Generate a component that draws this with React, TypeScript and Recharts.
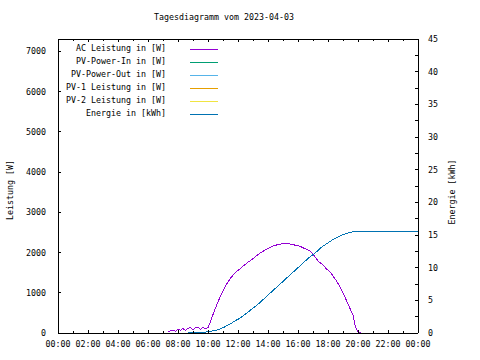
import { Legend, Line, LineChart, XAxis, YAxis } from "recharts"

// Tagesdiagramm: AC-Leistung (W, linke Achse) und Energie (kWh, rechte Achse)
const times = [
  "07:20", "07:30", "07:40", "07:50",
  "08:00", "08:10", "08:20", "08:30", "08:40", "08:50",
  "09:00", "09:10", "09:20", "09:30", "09:40", "09:50",
  "10:00", "10:10", "10:20", "10:30", "10:40", "10:50",
  "11:00", "11:10", "11:20", "11:30", "11:40", "11:50",
  "12:00", "12:10", "12:20", "12:30", "12:40", "12:50",
  "13:00", "13:10", "13:20", "13:30", "13:40", "13:50",
  "14:00", "14:10", "14:20", "14:30", "14:40", "14:50",
  "15:00", "15:10", "15:20", "15:30", "15:40", "15:50",
  "16:00", "16:10", "16:20", "16:30", "16:40", "16:50",
  "17:00", "17:10", "17:20", "17:30", "17:40", "17:50",
  "18:00", "18:10", "18:20", "18:30", "18:40", "18:50",
  "19:00", "19:10", "19:20", "19:30", "19:40", "19:50",
  "20:00", "20:10", "24:00"
]

const acPower = [
  20, 60, 70, 40,
  90, 70, 110, 60, 120, 130,
  80, 130, 140, 90, 140, 110,
  130, 280, 460, 620, 770, 920,
  1050, 1170, 1270, 1360, 1440, 1510,
  1560, 1600, 1660, 1710, 1760, 1800,
  1850, 1900, 1950, 2000, 2030, 2070,
  2100, 2130, 2160, 2180, 2200, 2210,
  2230, 2220, 2230, 2210, 2200, 2180,
  2170, 2150, 2120, 2090, 2060, 2030,
  1960, 1880, 1790, 1740, 1690, 1620,
  1560, 1510, 1420, 1330, 1230, 1120,
  1000, 860, 720, 580, 450, 150,
  40, 0, null
]

const energy = [
  null, null, null, null,
  null, null, null, null, 0.1, 0.1,
  0.1, 0.1, 0.1, 0.1, 0.15, 0.15,
  0.2, 0.25, 0.35, 0.4, 0.5, 0.65,
  0.8, 1.0, 1.2, 1.4, 1.65, 1.9,
  2.1, 2.35, 2.6, 2.9, 3.2, 3.5,
  3.8, 4.1, 4.4, 4.75, 5.1, 5.45,
  5.8, 6.15, 6.5, 6.85, 7.2, 7.55,
  7.9, 8.25, 8.6, 8.95, 9.3, 9.65,
  10.0, 10.35, 10.7, 11.05, 11.4, 11.7,
  12.0, 12.3, 12.6, 13.0, 13.3, 13.55,
  13.8, 14.05, 14.3, 14.5, 14.7, 14.9,
  15.05, 15.2, 15.3, 15.4, 15.5, 15.55,
  15.6, 15.6, 15.6
]

// keine Messwerte an diesem Tag
const pvPowerIn: (number | null)[] = []
const pvPowerOut: (number | null)[] = []
const pv1: (number | null)[] = []
const pv2: (number | null)[] = []

const xTicks = [
  0, 60, 120, 180, 240, 300, 360, 420, 480, 540, 600, 660, 720,
  780, 840, 900, 960, 1020, 1080, 1140, 1200, 1260, 1320, 1380, 1440
]
const leftTicks = [0, 1000, 2000, 3000, 4000, 5000, 6000, 7000]
const rightTicks = [
  0, 2.5, 5, 7.5, 10, 12.5, 15, 17.5, 20, 22.5, 25, 27.5, 30,
  32.5, 35, 37.5, 40, 42.5, 45
]

const series = [
  { key: "ac", name: "AC Leistung in [W]", color: "#9400d3", axis: "left" },
  { key: "pvIn", name: "PV-Power-In in [W]", color: "#009e73", axis: "left" },
  { key: "pvOut", name: "PV-Power-Out in [W]", color: "#56b4e9", axis: "left" },
  { key: "pv1", name: "PV-1 Leistung in [W]", color: "#e69f00", axis: "left" },
  { key: "pv2", name: "PV-2 Leistung in [W]", color: "#f0e442", axis: "left" },
  { key: "energy", name: "Energie in [kWh]", color: "#0072b2", axis: "right" }
]

const toMinutes = (t: string) => {
  const [h, m] = t.split(":").map(Number)
  return h * 60 + m
}

const data = times.map((t, i) => ({
  t: toMinutes(t),
  ac: acPower[i],
  pvIn: pvPowerIn[i],
  pvOut: pvPowerOut[i],
  pv1: pv1[i],
  pv2: pv2[i],
  energy: energy[i]
}))

const FONT = "'DejaVu Sans Mono', monospace"
const FS = 8.3

const fmtTime = (v: number) => {
  const h = Math.floor(v / 60) % 24
  return `${String(h).padStart(2, "0")}:00`
}

function BottomTick({ x, y, payload }: any) {
  const major = payload.value % 120 === 0
  const axisY = y - 11
  return (
    <g>
      <line x1={x} x2={x} y1={axisY} y2={axisY - (major ? 3 : 2)} stroke="#000" />
      {major && (
        <text x={x} y={y} textAnchor="middle" dominantBaseline="central" fontFamily={FONT} fontSize={FS} fill="#000">
          {fmtTime(payload.value)}
        </text>
      )}
    </g>
  )
}

function TopTick({ x, y, payload }: any) {
  const major = payload.value % 120 === 0
  return <line x1={x} x2={x} y1={y} y2={y + (major ? 3 : 2)} stroke="#000" />
}

function LeftTick({ x, y, payload }: any) {
  const axisX = x + 12
  return (
    <g>
      <line x1={axisX} x2={axisX + 3} y1={y} y2={y} stroke="#000" />
      <text x={x} y={y} textAnchor="end" dominantBaseline="central" fontFamily={FONT} fontSize={FS} fill="#000">
        {payload.value}
      </text>
    </g>
  )
}

function RightTick({ x, y, payload }: any) {
  const axisX = x - 10
  const major = payload.value % 5 === 0
  return (
    <g>
      <line x1={axisX} x2={axisX - 3} y1={y} y2={y} stroke="#000" />
      {major && (
        <text x={x} y={y} textAnchor="start" dominantBaseline="central" fontFamily={FONT} fontSize={FS} fill="#000">
          {payload.value}
        </text>
      )}
    </g>
  )
}

// gnuplot-artige Legende: Text rechtsbündig, Linienmuster rechts daneben
const renderLegend = () => (
  <div style={{ fontFamily: FONT, fontSize: FS, color: "#000" }}>
    {series.map((s) => (
      <div key={s.key} style={{ display: "flex", alignItems: "center", height: 13 }}>
        <span style={{ width: 166, textAlign: "right", whiteSpace: "pre" }}>{s.name}</span>
        <span style={{ marginLeft: 24, marginTop: 3, width: 28, height: 0, borderTop: `1px solid ${s.color}` }} />
      </div>
    ))}
  </div>
)

export default function App() {
  return (
    <div style={{ position: "absolute", left: 0, top: 0, width: 480, height: 360, background: "#fff" }}>
      <div
        style={{
          position: "absolute",
          left: 0,
          width: 448,
          top: 12,
          textAlign: "center",
          fontFamily: FONT,
          fontSize: FS,
          color: "#000"
        }}
      >
        Tagesdiagramm vom 2023-04-03
      </div>
      <LineChart
        width={480}
        height={360}
        data={data}
        margin={{ top: 38, right: 12, bottom: 7, left: 8 }}
        style={{ shapeRendering: "crispEdges" }}
      >
        <XAxis
          dataKey="t"
          type="number"
          domain={[0, 1440]}
          ticks={xTicks}
          interval={0}
          height={20}
          tickSize={0}
          tickMargin={11}
          tickLine={false}
          axisLine={{ stroke: "#000" }}
          tick={<BottomTick />}
        />
        <XAxis
          xAxisId="top"
          orientation="top"
          dataKey="t"
          type="number"
          domain={[0, 1440]}
          allowDataOverflow
          ticks={xTicks}
          interval={0}
          height={1}
          tickSize={0}
          tickMargin={0}
          tickLine={false}
          axisLine={{ stroke: "#000" }}
          tick={<TopTick />}
        />
        <YAxis
          yAxisId="left"
          domain={[0, 7310]}
          allowDataOverflow
          ticks={leftTicks}
          interval={0}
          width={50}
          tickSize={0}
          tickMargin={12}
          tickLine={false}
          axisLine={{ stroke: "#000" }}
          tick={<LeftTick />}
          label={{
            content: () => (
              <text
                x={10}
                y={190}
                transform="rotate(-90 10 190)"
                textAnchor="middle"
                dominantBaseline="central"
                fontFamily={FONT}
                fontSize={FS}
                fill="#000"
              >
                Leistung [W]
              </text>
            )
          }}
        />
        <YAxis
          yAxisId="right"
          orientation="right"
          domain={[0, 45]}
          allowDataOverflow
          ticks={rightTicks}
          interval={0}
          width={50}
          tickSize={0}
          tickMargin={10}
          tickLine={false}
          axisLine={{ stroke: "#000" }}
          tick={<RightTick />}
          label={{
            content: () => (
              <text
                x={452}
                y={192}
                transform="rotate(-90 452 192)"
                textAnchor="middle"
                dominantBaseline="central"
                fontFamily={FONT}
                fontSize={FS}
                fill="#000"
              >
                Energie [kWh]
              </text>
            )
          }}
        />
        <Legend
          layout="vertical"
          align="center"
          verticalAlign="middle"
          content={renderLegend}
          wrapperStyle={{ left: 0, top: 41, width: 230 }}
        />
        {series.map((s) => (
          <Line
            key={s.key}
            yAxisId={s.axis}
            name={s.name}
            dataKey={s.key}
            stroke={s.color}
            strokeWidth={1}
            dot={false}
            activeDot={false}
            isAnimationActive={false}
          />
        ))}
      </LineChart>
    </div>
  )
}
